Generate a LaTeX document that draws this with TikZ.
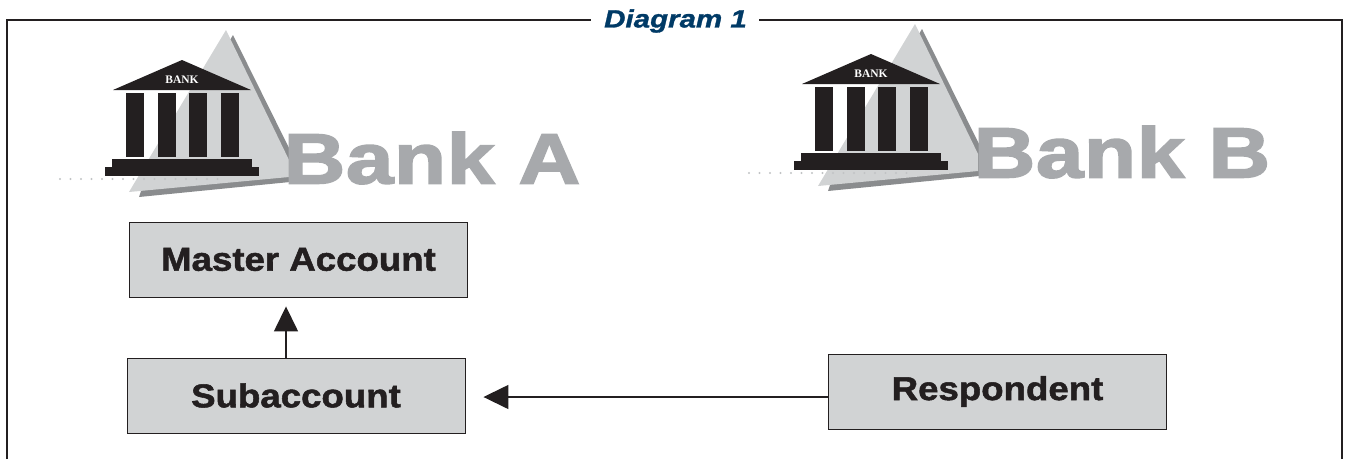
\documentclass[tikz,border=0pt]{standalone}
\usepackage{fontspec}
\usetikzlibrary{arrows.meta}
\setmainfont{Liberation Sans}
\newfontfamily\blackfont[BoldFont={Liberation Sans Bold},BoldFeatures={FakeBold=1.6,FakeStretch=1.11}]{Liberation Sans}
\newfontfamily\bigfont[BoldFont={Liberation Sans Bold},BoldFeatures={FakeBold=2.5,FakeStretch=1.2,LetterSpace=1}]{Liberation Sans}
\newfontfamily\titlefont[BoldItalicFont={Liberation Sans Bold Italic},BoldItalicFeatures={FakeBold=1.2,FakeStretch=1.18}]{Liberation Sans}
\newfontfamily\roofont{Liberation Serif}
\definecolor{boxgray}{HTML}{D1D3D4}
\definecolor{midgray}{HTML}{8A8C8E}
\definecolor{wordgray}{HTML}{A7A9AC}
\definecolor{inkblack}{HTML}{231F20}
\definecolor{titleblue}{HTML}{003A66}
\tikzset{
  acctbox/.style={draw=inkblack,line width=0.9pt,fill=boxgray,inner sep=0pt,
    minimum width=338pt,minimum height=75pt,text=inkblack,
    font=\blackfont\bfseries\fontsize{33}{33}\selectfont},
  flowline/.style={draw=inkblack,line width=1.5pt,-{Triangle[length=25pt,width=24pt]}},
  frameline/.style={draw=inkblack,line width=1.6pt},
  bankword/.style={inner sep=0pt,text=wordgray,font=\bigfont\bfseries\fontsize{71}{71}\selectfont},
  bankicon/.pic={
    \fill[midgray] (233,35) -- (290,150) -- (290,182) -- (139,197) -- (143,185) -- cycle;
    \fill[boxgray] (226,30) -- (289,160) -- (289,177) -- (129,192) -- cycle;
    \foreach \k in {0,...,15} \fill[wordgray!70] ({60+10.5*\k},179) circle (1.1);
    \fill[inkblack] (182,60) -- (251,90) -- (113,90) -- cycle;
    \foreach \c in {126,157.5,189,221} \fill[inkblack] (\c,93) rectangle ++(18,64);
    \fill[inkblack] (112,159) rectangle (252,167);
    \fill[inkblack] (105,167) rectangle (259,176);
    \node[inner sep=0pt,text=white,font=\roofont\bfseries\fontsize{11.5}{11.5}\selectfont] at (182,79.5) {BANK};
  }
}
\begin{document}
\begin{tikzpicture}[x=1pt,y=-1pt]
\useasboundingbox (0,0) rectangle (1349,459);
\fill[white] (0,0) rectangle (1349,459);
\node[inner sep=0pt,text=titleblue,font=\titlefont\bfseries\itshape\fontsize{25}{25}\selectfont] (title) at (675.5,21) {Diagram 1};
\coordinate (frameTL) at (7,20);
\coordinate (frameTR) at (1342,20);
\coordinate (frameBL) at (7,459);
\coordinate (frameBR) at (1342,459);
\draw[frameline] (frameBL) -- (frameTL) -- ([xshift=-13pt]title.west |- frameTL);
\draw[frameline] ([xshift=12pt]title.east |- frameTR) -- (frameTR) -- (frameBR);
\pic at (0,0) {bankicon};
\pic at (689,-6) {bankicon};
\node[bankword,anchor=center] (wordA) at (432,158) {Bank A};
\node[bankword,anchor=center] (wordB) at (1122,152) {Bank B};
\node[acctbox] (master) at (298.5,259.5) {Master Account};
\node[acctbox] (sub) at (296,395.5) {Subaccount};
\node[acctbox] (resp) at (997.5,391.5) {Respondent};
\draw[flowline] ([xshift=-10pt]sub.north) -- ([xshift=-12.5pt,yshift=-9pt]master.south);
\draw[flowline] ([yshift=-5.5pt]resp.west) -- ([xshift=18pt,yshift=-1.5pt]sub.east);
\end{tikzpicture}
\end{document}
